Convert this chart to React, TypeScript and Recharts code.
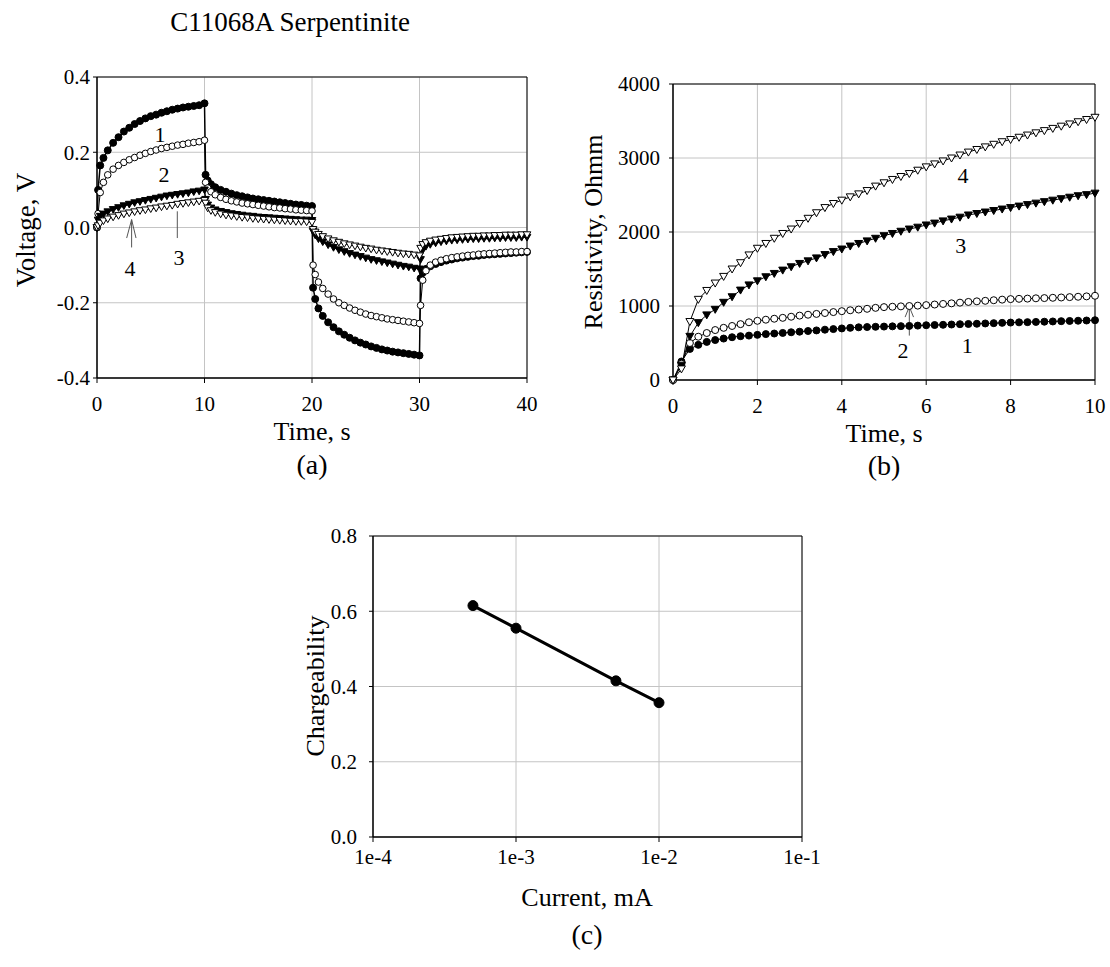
// Three-panel IP figure for sample C11068A Serpentinite.
// (a) voltage vs time, (b) apparent resistivity vs time, (c) chargeability vs current.

import React from "react";
import {
  LineChart,
  Line,
  XAxis,
  YAxis,
  CartesianGrid,
  ReferenceArea,
  ReferenceLine,
  ReferenceDot,
} from "recharts";

const FONT = '"Liberation Serif", "Times New Roman", serif';

// ---- panel (a): voltage, V ----
const timeA = [
  0, 0.1, 0.3, 0.6, 1, 1.5, 2, 2.5, 3, 3.5, 4, 4.5, 5, 5.5, 6, 6.5, 7, 7.5, 8, 8.5, 9, 9.5, 10,
  10.1, 10.3, 10.6, 11, 11.5, 12, 12.5, 13, 13.5, 14, 14.5, 15, 15.5, 16, 16.5, 17, 17.5, 18, 18.5, 19, 19.5, 20,
  20.1, 20.3, 20.6, 21, 21.5, 22, 22.5, 23, 23.5, 24, 24.5, 25, 25.5, 26, 26.5, 27, 27.5, 28, 28.5, 29, 29.5, 30,
  30.1, 30.3, 30.6, 31, 31.5, 32, 32.5, 33, 33.5, 34, 34.5, 35, 35.5, 36, 36.5, 37, 37.5, 38, 38.5, 39, 39.5, 40,
];
const voltage1 = [
  0, 0.1, 0.165, 0.185, 0.205, 0.225, 0.24, 0.255, 0.265, 0.275, 0.283, 0.29, 0.296, 0.3, 0.305, 0.309, 0.313, 0.316, 0.319, 0.321, 0.323, 0.325, 0.33,
  0.14, 0.125, 0.115, 0.107, 0.1, 0.095, 0.09, 0.086, 0.083, 0.08, 0.077, 0.075, 0.073, 0.071, 0.069, 0.067, 0.065, 0.063, 0.061, 0.06, 0.058, 0.057,
  -0.16, -0.19, -0.215, -0.235, -0.252, -0.265, -0.276, -0.285, -0.293, -0.3, -0.306, -0.311, -0.316, -0.32, -0.324, -0.327, -0.33, -0.332, -0.334, -0.336, -0.338, -0.34,
  -0.135, -0.12, -0.11, -0.103, -0.097, -0.092, -0.088, -0.085, -0.082, -0.08, -0.078, -0.076, -0.075, -0.073, -0.072, -0.071, -0.07, -0.069, -0.068, -0.067, -0.066, -0.065,
];
const voltage2 = [
  0, 0.037, 0.093, 0.12, 0.14, 0.155, 0.165, 0.173, 0.18, 0.186, 0.192, 0.197, 0.202, 0.206, 0.21, 0.213, 0.216, 0.219, 0.221, 0.224, 0.226, 0.228, 0.232,
  0.12, 0.105, 0.095, 0.087, 0.08, 0.075, 0.071, 0.068, 0.065, 0.063, 0.061, 0.059, 0.057, 0.055, 0.053, 0.052, 0.05, 0.049, 0.047, 0.046, 0.045, 0.044,
  -0.1, -0.125, -0.145, -0.162, -0.177, -0.19, -0.2, -0.207, -0.214, -0.22, -0.225, -0.23, -0.234, -0.237, -0.24, -0.243, -0.245, -0.247, -0.249, -0.251, -0.253, -0.255,
  -0.207, -0.14, -0.115, -0.1, -0.092, -0.087, -0.083, -0.08, -0.078, -0.076, -0.074, -0.073, -0.071, -0.07, -0.069, -0.068, -0.067, -0.066, -0.065, -0.065, -0.064, -0.064,
];
const voltage3 = [
  0, 0.02, 0.03, 0.036, 0.042, 0.048, 0.053, 0.058, 0.062, 0.066, 0.069, 0.072, 0.075, 0.078, 0.081, 0.084, 0.086, 0.088, 0.09, 0.092, 0.095, 0.097, 0.1,
  0.075, 0.06, 0.052, 0.047, 0.043, 0.04, 0.037, 0.035, 0.033, 0.031, 0.03, 0.028, 0.027, 0.026, 0.025, 0.024, 0.023, 0.022, 0.021, 0.02, 0.02, 0.019,
  -0.01, -0.02, -0.03, -0.038, -0.046, -0.053, -0.059, -0.064, -0.069, -0.073, -0.077, -0.081, -0.085, -0.088, -0.091, -0.094, -0.097, -0.1, -0.103, -0.105, -0.108, -0.11,
  -0.085, -0.06, -0.05, -0.045, -0.041, -0.038, -0.036, -0.034, -0.033, -0.032, -0.031, -0.03, -0.03, -0.029, -0.029, -0.028, -0.028, -0.027, -0.027, -0.027, -0.026, -0.026,
];
const voltage4 = [
  0, 0.005, 0.012, 0.018, 0.023, 0.028, 0.032, 0.036, 0.039, 0.042, 0.045, 0.047, 0.05, 0.052, 0.055, 0.057, 0.059, 0.062, 0.064, 0.066, 0.068, 0.07, 0.072,
  0.065, 0.052, 0.045, 0.04, 0.036, 0.033, 0.031, 0.029, 0.027, 0.026, 0.024, 0.023, 0.022, 0.021, 0.02, 0.019, 0.018, 0.017, 0.016, 0.016, 0.015, 0.014,
  -0.005, -0.012, -0.018, -0.024, -0.03, -0.035, -0.039, -0.043, -0.046, -0.049, -0.052, -0.055, -0.057, -0.06, -0.062, -0.064, -0.066, -0.068, -0.07, -0.071, -0.073, -0.075,
  -0.055, -0.045, -0.04, -0.036, -0.033, -0.031, -0.029, -0.027, -0.026, -0.025, -0.024, -0.023, -0.023, -0.022, -0.022, -0.021, -0.021, -0.02, -0.02, -0.02, -0.019, -0.019,
];
const ticksTimeA = [0, 10, 20, 30, 40];
const ticksVoltage = [-0.4, -0.2, 0, 0.2, 0.4];

// ---- panel (b): resistivity, Ohmm ----
const timeB = [
  0, 0.2, 0.4, 0.6, 0.8, 1, 1.2, 1.4, 1.6, 1.8, 2, 2.2, 2.4, 2.6, 2.8, 3, 3.2, 3.4, 3.6, 3.8, 4, 4.2, 4.4, 4.6, 4.8,
  5, 5.2, 5.4, 5.6, 5.8, 6, 6.2, 6.4, 6.6, 6.8, 7, 7.2, 7.4, 7.6, 7.8, 8, 8.2, 8.4, 8.6, 8.8, 9, 9.2, 9.4, 9.6, 9.8, 10,
];
const resist1 = [
  0, 250, 420, 475, 515, 540, 560, 578, 592, 600, 610, 620, 628, 636, 645, 653, 662, 670, 680, 688, 697, 705, 712, 716, 719,
  722, 725, 728, 731, 735, 740, 743, 746, 750, 754, 757, 760, 764, 768, 772, 776, 779, 782, 785, 788, 791, 795, 798, 801, 804, 808,
];
const resist2 = [
  0, 220, 500, 585, 635, 675, 705, 730, 755, 780, 800, 815, 828, 840, 855, 870, 882, 893, 905, 918, 930, 942, 952, 962, 975,
  985, 990, 995, 1000, 1005, 1012, 1020, 1028, 1036, 1045, 1055, 1063, 1070, 1078, 1086, 1093, 1097, 1100, 1104, 1107, 1111, 1115, 1120, 1125, 1130, 1138,
];
const resist3 = [
  0, 200, 590, 775, 880, 955, 1050, 1125, 1215, 1285, 1340, 1395, 1440, 1485, 1530, 1575, 1610, 1650, 1695, 1735, 1770, 1810, 1845, 1880, 1915,
  1950, 1980, 2010, 2040, 2065, 2095, 2120, 2150, 2175, 2200, 2230, 2250, 2270, 2290, 2310, 2330, 2350, 2370, 2390, 2410, 2430, 2450, 2470, 2490, 2505, 2525,
];
const resist4 = [
  0, 150, 790, 1090, 1210, 1310, 1400, 1500, 1585, 1690, 1780, 1845, 1915, 1980, 2040, 2115, 2185, 2260, 2330, 2385, 2430, 2475, 2515, 2560, 2620,
  2665, 2710, 2750, 2790, 2835, 2880, 2920, 2960, 3000, 3040, 3080, 3115, 3150, 3185, 3220, 3250, 3280, 3310, 3340, 3370, 3400, 3430, 3460, 3490, 3520, 3550,
];
const ticksTimeB = [0, 2, 4, 6, 8, 10];
const ticksResist = [0, 1000, 2000, 3000, 4000];

// ---- panel (c): chargeability vs current ----
const current = [5e-4, 1e-3, 5e-3, 1e-2];
const chargeability = [0.615, 0.555, 0.415, 0.357];
const ticksCurrent = [1e-4, 1e-3, 1e-2, 1e-1];
const ticksCharge = [0, 0.2, 0.4, 0.6, 0.8];

const dataA = timeA.map((t, i) => ({
  t,
  v1: voltage1[i],
  v2: voltage2[i],
  v3: voltage3[i],
  v4: voltage4[i],
}));
const dataB = timeB.map((t, i) => ({
  t,
  r1: resist1[i],
  r2: resist2[i],
  r3: resist3[i],
  r4: resist4[i],
}));
const dataC = current.map((c, i) => ({ c, m: chargeability[i] }));

const gridColor = "#c4c4c4";
const plain = (v: number) => String(v);
const oneDec = (v: number) => v.toFixed(1);
const expo = (v: number) => `1e${Math.round(Math.log10(v))}`;

// own tick renderer so the serif face and size stick
function tickText(side: "x" | "y", fmt: (v: number) => string) {
  return (props: any) => {
    const { x, y, payload, index } = props;
    return (
      <text
        key={index}
        x={x}
        y={y}
        dy={side === "x" ? "0.71em" : "0.355em"}
        textAnchor={side === "x" ? "middle" : "end"}
        fontSize={21}
        fontFamily={FONT}
        fill="#000"
      >
        {fmt(payload.value)}
      </text>
    );
  };
}

// downward triangle marker, filled or open
function triangleDot(filled: boolean, s: number) {
  return (props: any) => {
    const { cx, cy, index } = props;
    if (cx == null || cy == null) return <g key={index} />;
    const d = `M${cx - s},${cy - s * 0.75} L${cx + s},${cy - s * 0.75} L${cx},${cy + s} Z`;
    return (
      <path
        key={index}
        d={d}
        fill={filled ? "#000" : "#fff"}
        stroke="#000"
        strokeWidth={1}
      />
    );
  };
}

function Txt({ x, y, size, rotate, children }: {
  x: number;
  y: number;
  size: number;
  rotate?: boolean;
  children: React.ReactNode;
}) {
  return (
    <div
      style={{
        position: "absolute",
        left: x,
        top: y,
        transform: `translate(-50%, -50%)${rotate ? " rotate(-90deg)" : ""}`,
        fontFamily: FONT,
        fontSize: size,
        color: "#000",
        whiteSpace: "nowrap",
        lineHeight: 1,
      }}
    >
      {children}
    </div>
  );
}

const annot = (value: string) => ({
  value,
  position: "center" as const,
  fontSize: 22,
  fill: "#000",
  fontFamily: FONT,
});

function PanelA() {
  return (
    <LineChart
      width={540}
      height={400}
      data={dataA}
      margin={{ top: 17, right: 13, left: 20, bottom: 52 }}
    >
      <CartesianGrid stroke={gridColor} />
      <XAxis
        dataKey="t"
        type="number"
        domain={[0, 40]}
        ticks={ticksTimeA}
        height={30}
        tickSize={5}
        tickMargin={13}
        tick={tickText("x", plain)}
        axisLine={{ stroke: "#000" }}
        tickLine={{ stroke: "#000" }}
      />
      <YAxis
        type="number"
        domain={[-0.4, 0.4]}
        ticks={ticksVoltage}
        width={77}
        tickSize={4}
        tickMargin={3}
        tick={tickText("y", oneDec)}
        axisLine={{ stroke: "#000" }}
        tickLine={{ stroke: "#000" }}
      />
      <ReferenceArea x1={0} x2={40} y1={-0.4} y2={0.4} fill="none" stroke="#000" strokeWidth={1} />
      <Line
        type="linear"
        dataKey="v1"
        stroke="#000"
        strokeWidth={1.5}
        dot={{ r: 3.5, fill: "#000", stroke: "#000", strokeWidth: 1 }}
        isAnimationActive={false}
      />
      <Line
        type="linear"
        dataKey="v2"
        stroke="#000"
        strokeWidth={1}
        dot={{ r: 3.3, fill: "#fff", stroke: "#000", strokeWidth: 1 }}
        isAnimationActive={false}
      />
      <Line
        type="linear"
        dataKey="v3"
        stroke="#000"
        strokeWidth={1.5}
        dot={triangleDot(true, 3.8)}
        isAnimationActive={false}
      />
      <Line
        type="linear"
        dataKey="v4"
        stroke="#000"
        strokeWidth={1}
        dot={triangleDot(false, 3.8)}
        isAnimationActive={false}
      />
      <ReferenceLine segment={[{ x: 7.47, y: 0.043 }, { x: 7.47, y: -0.028 }]} stroke="#555" />
      <ReferenceLine segment={[{ x: 3.22, y: 0.021 }, { x: 3.22, y: -0.053 }]} stroke="#555" />
      <ReferenceLine segment={[{ x: 3.22, y: 0.021 }, { x: 2.76, y: -0.028 }]} stroke="#555" />
      <ReferenceLine segment={[{ x: 3.22, y: 0.021 }, { x: 3.63, y: -0.028 }]} stroke="#555" />
      <ReferenceDot x={5.86} y={0.248} r={0} fill="none" stroke="none" label={annot("1")} />
      <ReferenceDot x={6.23} y={0.141} r={0} fill="none" stroke="none" label={annot("2")} />
      <ReferenceDot x={7.63} y={-0.08} r={0} fill="none" stroke="none" label={annot("3")} />
      <ReferenceDot x={3.07} y={-0.107} r={0} fill="none" stroke="none" label={annot("4")} />
    </LineChart>
  );
}

function PanelB() {
  return (
    <LineChart
      width={550}
      height={400}
      data={dataB}
      margin={{ top: 24, right: 15, left: 20, bottom: 50 }}
    >
      <CartesianGrid stroke={gridColor} />
      <XAxis
        dataKey="t"
        type="number"
        domain={[0, 10]}
        ticks={ticksTimeB}
        height={30}
        tickSize={5}
        tickMargin={13}
        tick={tickText("x", plain)}
        axisLine={{ stroke: "#000" }}
        tickLine={{ stroke: "#000" }}
      />
      <YAxis
        type="number"
        domain={[0, 4000]}
        ticks={ticksResist}
        width={93}
        tickSize={4}
        tickMargin={9}
        tick={tickText("y", plain)}
        axisLine={{ stroke: "#000" }}
        tickLine={{ stroke: "#000" }}
      />
      <ReferenceArea x1={0} x2={10} y1={0} y2={4000} fill="none" stroke="#000" strokeWidth={1} />
      <Line
        type="linear"
        dataKey="r1"
        stroke="#000"
        strokeWidth={1}
        dot={{ r: 3.5, fill: "#000", stroke: "#000", strokeWidth: 1 }}
        isAnimationActive={false}
      />
      <Line
        type="linear"
        dataKey="r2"
        stroke="#000"
        strokeWidth={1}
        dot={{ r: 3.5, fill: "#fff", stroke: "#000", strokeWidth: 1 }}
        isAnimationActive={false}
      />
      <Line
        type="linear"
        dataKey="r3"
        stroke="#000"
        strokeWidth={1}
        dot={triangleDot(true, 4)}
        isAnimationActive={false}
      />
      <Line
        type="linear"
        dataKey="r4"
        stroke="#000"
        strokeWidth={1}
        dot={triangleDot(false, 4)}
        isAnimationActive={false}
      />
      <ReferenceLine segment={[{ x: 5.6, y: 990 }, { x: 5.6, y: 600 }]} stroke="#555" />
      <ReferenceLine segment={[{ x: 5.6, y: 990 }, { x: 5.5, y: 850 }]} stroke="#555" />
      <ReferenceLine segment={[{ x: 5.6, y: 990 }, { x: 5.7, y: 850 }]} stroke="#555" />
      <ReferenceDot x={6.87} y={2770} r={0} fill="none" stroke="none" label={annot("4")} />
      <ReferenceDot x={6.82} y={1824} r={0} fill="none" stroke="none" label={annot("3")} />
      <ReferenceDot x={5.45} y={405} r={0} fill="none" stroke="none" label={annot("2")} />
      <ReferenceDot x={6.97} y={473} r={0} fill="none" stroke="none" label={annot("1")} />
    </LineChart>
  );
}

function PanelC() {
  return (
    <LineChart
      width={540}
      height={370}
      data={dataC}
      margin={{ top: 16, right: 18, left: 20, bottom: 23 }}
    >
      <CartesianGrid stroke={gridColor} />
      <XAxis
        dataKey="c"
        type="number"
        scale="log"
        domain={[1e-4, 1e-1]}
        ticks={ticksCurrent}
        allowDataOverflow
        height={30}
        tickSize={5}
        tickMargin={7}
        tick={tickText("x", expo)}
        axisLine={{ stroke: "#000" }}
        tickLine={{ stroke: "#000" }}
      />
      <YAxis
        type="number"
        domain={[0, 0.8]}
        ticks={ticksCharge}
        width={73}
        tickSize={4}
        tickMargin={12}
        tick={tickText("y", oneDec)}
        axisLine={{ stroke: "#000" }}
        tickLine={{ stroke: "#000" }}
      />
      <ReferenceArea x1={1e-4} x2={1e-1} y1={0} y2={0.8} fill="none" stroke="#000" strokeWidth={1} />
      <Line
        type="linear"
        dataKey="m"
        stroke="#000"
        strokeWidth={3}
        dot={{ r: 5, fill: "#000", stroke: "#000", strokeWidth: 1 }}
        isAnimationActive={false}
      />
    </LineChart>
  );
}

export default function App() {
  return (
    <div
      style={{
        position: "absolute",
        left: 0,
        top: 0,
        width: 1110,
        height: 967,
        background: "#fff",
        fontFamily: FONT,
      }}
    >
      <Txt x={290} y={22} size={27}>C11068A Serpentinite</Txt>

      <div style={{ position: "absolute", left: 0, top: 60 }}>
        <PanelA />
      </div>
      <Txt x={26} y={230} size={27} rotate>Voltage, V</Txt>
      <Txt x={312} y={432} size={26}>Time, s</Txt>
      <Txt x={312} y={465} size={28}>(a)</Txt>

      <div style={{ position: "absolute", left: 560, top: 60 }}>
        <PanelB />
      </div>
      <Txt x={594} y={232} size={26} rotate>Resistivity, Ohmm</Txt>
      <Txt x={884} y={434} size={26}>Time, s</Txt>
      <Txt x={884} y={466} size={28}>(b)</Txt>

      <div style={{ position: "absolute", left: 280, top: 520 }}>
        <PanelC />
      </div>
      <Txt x={316} y={686} size={26} rotate>Chargeability</Txt>
      <Txt x={587} y={898} size={26}>Current, mA</Txt>
      <Txt x={587} y={935} size={28}>(c)</Txt>
    </div>
  );
}
